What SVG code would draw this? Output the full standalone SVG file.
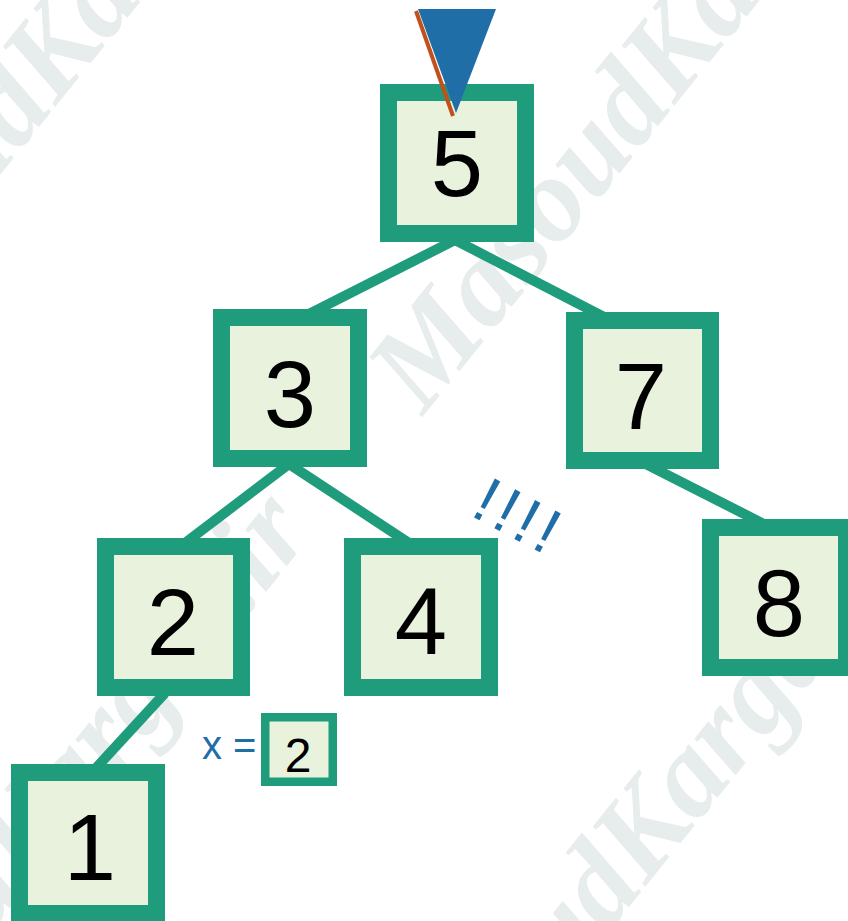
<svg xmlns="http://www.w3.org/2000/svg" width="848" height="921" viewBox="0 0 848 921">
<style>
.wm{fill:#E7ECEC;font-family:"Liberation Serif",serif;font-style:italic;font-weight:bold;font-size:120px}
.edge{stroke:#1E9C7B;stroke-width:10;fill:none}
.box{fill:#E8F2DC;stroke:#1E9C7B;stroke-width:17}
.sbox{fill:#E8F2DC;stroke:#1E9C7B;stroke-width:8.5}
.num{font-family:"Liberation Sans",Arial,sans-serif;font-size:94px;fill:#000;text-anchor:middle}
.blue{fill:#1F6EA8;font-family:"Liberation Sans",Arial,sans-serif}
</style>
<rect width="848" height="921" fill="#fff"/>
<g id="watermark">
<text class="wm" transform="translate(423,416) rotate(-51)">MasoudKargar.ir</text>
<text class="wm" transform="translate(394,1197) rotate(-51)">MasoudKargar.ir</text>
<text class="wm" transform="translate(-196,417) rotate(-51)">MasoudKargar.ir</text>
<text class="wm" transform="translate(-225,1198) rotate(-51)">MasoudKargar.ir</text>
</g>
<g id="connectors">
<line class="edge" x1="455" y1="240" x2="305" y2="316"/>
<line class="edge" x1="455" y1="240" x2="606" y2="318"/>
<line class="edge" x1="289" y1="464" x2="185" y2="543"/>
<line class="edge" x1="289" y1="464" x2="409" y2="543"/>
<line class="edge" x1="628" y1="455" x2="762" y2="523"/>
<line class="edge" x1="165" y1="693" x2="96" y2="768"/>
</g>
<g id="node5">
<rect class="box" x="388.5" y="92.5" width="137" height="141"/>
<text class="num" x="457" y="196">5</text>
</g>
<g id="pointer">
<line x1="416" y1="11" x2="453" y2="116" stroke="#C0501C" stroke-width="4"/>
<polygon points="418,9 496,9 456,113" fill="#1F6EA8"/>
</g>
<g id="node3">
<rect class="box" x="221.5" y="317.5" width="137" height="141"/>
<text class="num" x="290" y="427">3</text>
</g>
<g id="node7">
<rect class="box" x="574.5" y="320.5" width="136" height="140"/>
<text class="num" x="641" y="429">7</text>
</g>
<g id="node2">
<rect class="box" x="105.5" y="546.5" width="136" height="141"/>
<text class="num" x="173" y="655">2</text>
</g>
<g id="node4">
<rect class="box" x="352.5" y="546.5" width="137" height="141"/>
<text class="num" x="421" y="654">4</text>
</g>
<g id="node8">
<rect class="box" x="710.5" y="527.5" width="136" height="140"/>
<text class="num" x="779" y="636">8</text>
</g>
<g id="node1">
<rect class="box" x="19.5" y="772.5" width="137" height="141"/>
<text class="num" x="90" y="880">1</text>
</g>
<g id="xvar">
<text class="blue" x="202" y="759" font-size="40">x =</text>
<rect class="sbox" x="265.25" y="717.25" width="67.5" height="64.5"/>
<text class="num" x="298" y="772" font-size="48" style="font-size:48px">2</text>
</g>
<g id="exclaim">
<text class="blue" transform="translate(477,519) rotate(28)" x="-9" y="0" font-size="64" letter-spacing="5">!!!!</text>
</g>
</svg>
